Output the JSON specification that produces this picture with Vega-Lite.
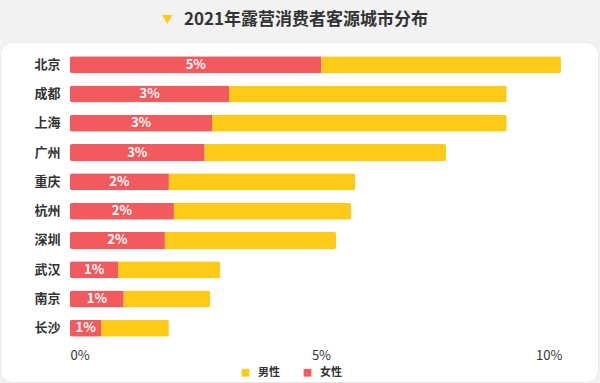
{
  "$schema": "https://vega.github.io/schema/vega-lite/v6.json",
  "width": 598,
  "height": 340,
  "autosize": {"type": "none"},
  "padding": {"left": 0, "top": 42, "right": 2, "bottom": 1},
  "background": "#f2f2f2",
  "title": {
    "text": "2021年露营消费者客源城市分布",
    "fontSize": 17,
    "fontWeight": "bold",
    "color": "#333333",
    "font": "Noto Sans CJK SC",
    "anchor": "middle",
    "offset": 11,
    "dx": 7,
    "dy": 26
  },
  "data": {
    "values": [
      {"city": "北京", "sex": "女性", "value": 0.0501},
      {"city": "北京", "sex": "男性", "value": 0.0477},
      {"city": "成都", "sex": "女性", "value": 0.0317},
      {"city": "成都", "sex": "男性", "value": 0.0553},
      {"city": "上海", "sex": "女性", "value": 0.0283},
      {"city": "上海", "sex": "男性", "value": 0.0587},
      {"city": "广州", "sex": "女性", "value": 0.0268},
      {"city": "广州", "sex": "男性", "value": 0.0481},
      {"city": "重庆", "sex": "女性", "value": 0.0197},
      {"city": "重庆", "sex": "男性", "value": 0.0371},
      {"city": "杭州", "sex": "女性", "value": 0.0207},
      {"city": "杭州", "sex": "男性", "value": 0.0353},
      {"city": "深圳", "sex": "女性", "value": 0.0189},
      {"city": "深圳", "sex": "男性", "value": 0.0341},
      {"city": "武汉", "sex": "女性", "value": 0.0096},
      {"city": "武汉", "sex": "男性", "value": 0.0203},
      {"city": "南京", "sex": "女性", "value": 0.0107},
      {"city": "南京", "sex": "男性", "value": 0.0172},
      {"city": "长沙", "sex": "女性", "value": 0.0062},
      {"city": "长沙", "sex": "男性", "value": 0.0135}
    ]
  },
  "encoding": {
    "y": {
      "field": "city",
      "type": "nominal",
      "sort": ["北京", "成都", "上海", "广州", "重庆", "杭州", "深圳", "武汉", "南京", "长沙"],
      "scale": {"range": [0, 309], "paddingInner": 0.42, "paddingOuter": 0.485},
      "axis": {
        "title": "▼",
        "titleColor": "#FDCA18",
        "titleFontSize": 11,
        "titleFont": "Noto Sans CJK SC",
        "titleAngle": 0,
        "titleAlign": "center",
        "titleBaseline": "middle",
        "titleX": 107,
        "titleY": -22,
        "domain": false,
        "ticks": false,
        "labelPadding": 0,
        "offset": -60,
        "labelFontSize": 13,
        "labelFontWeight": "bold",
        "labelColor": "#333333",
        "labelFont": "Noto Sans CJK SC"
      }
    }
  },
  "layer": [
    {
      "mark": {"type": "bar", "cornerRadius": 2},
      "encoding": {
        "x": {
          "field": "value",
          "type": "quantitative",
          "stack": "zero",
          "scale": {"domain": [0, 0.1], "range": [70, 572], "nice": false},
          "axis": {
            "title": null,
            "values": [0, 0.05, 0.1],
            "format": ".0%",
            "grid": false,
            "domain": false,
            "ticks": false,
            "labelFlush": true,
            "labelOffset": {"condition": {"test": "datum.value === 0.1", "value": -10}, "value": 0},
            "labelPadding": 0,
            "labelBaseline": "top",
            "offset": -33,
            "labelFontSize": 13,
            "labelColor": "#333333",
            "labelFont": "Noto Sans CJK SC"
          }
        },
        "color": {
          "field": "sex",
          "type": "nominal",
          "scale": {"domain": ["男性", "女性"], "range": ["#FDCA18", "#F25A5E"]},
          "legend": {
            "title": null,
            "orient": "none",
            "legendX": 240,
            "legendY": 325,
            "direction": "horizontal",
            "symbolType": "square",
            "symbolSize": 60,
            "symbolStrokeWidth": 0,
            "labelFontSize": 11,
            "labelFontWeight": "bold",
            "labelColor": "#333333",
            "labelFont": "Noto Sans CJK SC",
            "labelOffset": 7,
            "columnPadding": 22,
            "padding": 0
          }
        },
        "order": {"field": "sex", "sort": "ascending"}
      }
    },
    {
      "transform": [
        {"filter": "datum.sex === '女性'"},
        {"calculate": "datum.value / 2", "as": "mid"}
      ],
      "mark": {"type": "text", "color": "white", "fontWeight": "bold", "fontSize": 13, "font": "Noto Sans CJK SC"},
      "encoding": {
        "x": {"field": "mid", "type": "quantitative"},
        "text": {"field": "value", "type": "quantitative", "format": ".0%"}
      }
    }
  ],
  "config": {
    "view": {"fill": "white", "stroke": "#e8e8e8", "cornerRadius": 12}
  }
}
